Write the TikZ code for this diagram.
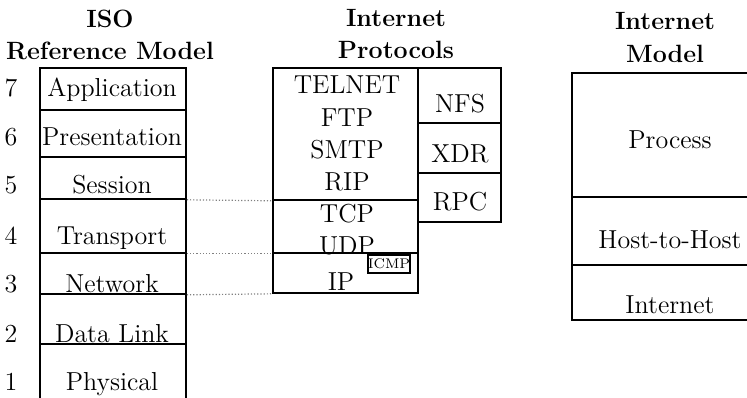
\documentclass[tikz,border=0pt]{standalone}
\usepackage{tikz}
\usetikzlibrary{fit, positioning}

\tikzset{
    box/.style={draw, line width=0.8pt, inner sep=0pt},
    txt/.style={font=\fontsize{13}{15}\selectfont, inner sep=0pt, anchor=base},
    head/.style={font=\fontsize{12.5}{15}\selectfont\bfseries, inner sep=0pt, anchor=base},
    link/.style={densely dotted, gray, line width=0.6pt}
}

\begin{document}
\begin{tikzpicture}[x=0.5pt, y=-0.5pt]
    \useasboundingbox (0,0) rectangle (747,397);

    \node[head] (isoA) at (110,27) {ISO};
    \node[head] (isoB) at (110,59) {Reference Model};
    \node[head] (ipA)  at (396,26) {Internet};
    \node[head] (ipB)  at (396,58) {Protocols};
    \node[head] (imA)  at (665,29) {Internet};
    \node[head] (imB)  at (665,62) {Model};

    \node[box, fit={(40,68) (186,110)}]  (app)   {};
    \node[box, fit={(40,110) (186,157)}] (pres)  {};
    \node[box, fit={(40,157) (186,199)}] (sess)  {};
    \node[box, fit={(40,199) (186,253)}] (trans) {};
    \node[box, fit={(40,253) (186,294)}] (net)   {};
    \node[box, fit={(40,294) (186,344)}] (dl)    {};
    \node[box, fit={(40,344) (186,420)}] (phys)  {};

    \node[txt] (n7) at (11,96)  {7};
    \node[txt] (n6) at (11,145) {6};
    \node[txt] (n5) at (11,193) {5};
    \node[txt] (n4) at (11,244) {4};
    \node[txt] (n3) at (11,292) {3};
    \node[txt] (n2) at (11,342) {2};
    \node[txt] (n1) at (11,390) {1};

    \node[txt] (appT)   at (112,96)  {Application};
    \node[txt] (presT)  at (112,145) {Presentation};
    \node[txt] (sessT)  at (112,193) {Session};
    \node[txt] (transT) at (112,244) {Transport};
    \node[txt] (netT)   at (112,292) {Network};
    \node[txt] (dlT)    at (112,342) {Data Link};
    \node[txt] (physT)  at (112,390) {Physical};

    \node[box, fit={(273,68) (418,200)}]  (apps)   {};
    \node[box, fit={(273,200) (418,253)}] (tcpudp) {};
    \node[box, fit={(273,253) (418,293)}] (ip)     {};
    \node[box, fit={(418,68) (501,123)}]  (nfs)    {};
    \node[box, fit={(418,123) (501,173)}] (xdr)    {};
    \node[box, fit={(418,173) (501,222)}] (rpc)    {};

    \node[txt] (telnet) at (347,93)  {TELNET};
    \node[txt] (ftp)    at (347,126) {FTP};
    \node[txt] (smtp)   at (347,158) {SMTP};
    \node[txt] (rip)    at (347,190) {RIP};
    \node[txt] (tcp)    at (347,222) {TCP};
    \node[txt] (udp)    at (347,254) {UDP};
    \node[txt] (ipT)    at (341,290) {IP};
    \node[txt] (nfsT)   at (460,112) {NFS};
    \node[txt] (xdrT)   at (460,162) {XDR};
    \node[txt] (rpcT)   at (460,210) {RPC};
    \node[box, fill=white, minimum width=21pt, minimum height=9pt,
          font=\fontsize{7}{8}\selectfont] (icmp) at (389,264) {ICMP};

    \node[box, fit={(572,73) (760,197)}]  (proc) {};
    \node[box, fit={(572,197) (760,265)}] (h2h)  {};
    \node[box, fit={(572,265) (760,320)}] (inet) {};

    \node[txt] (procT) at (670,148) {Process};
    \node[txt] (h2hT)  at (670,248) {Host-to-Host};
    \node[txt] (inetT) at (670,313) {Internet};

    \draw[link] (sess.south east)  -- (apps.south west);
    \draw[link] (trans.south east) -- (tcpudp.south west);
    \draw[link] (net.south east)   -- (ip.south west);
\end{tikzpicture}
\end{document}
